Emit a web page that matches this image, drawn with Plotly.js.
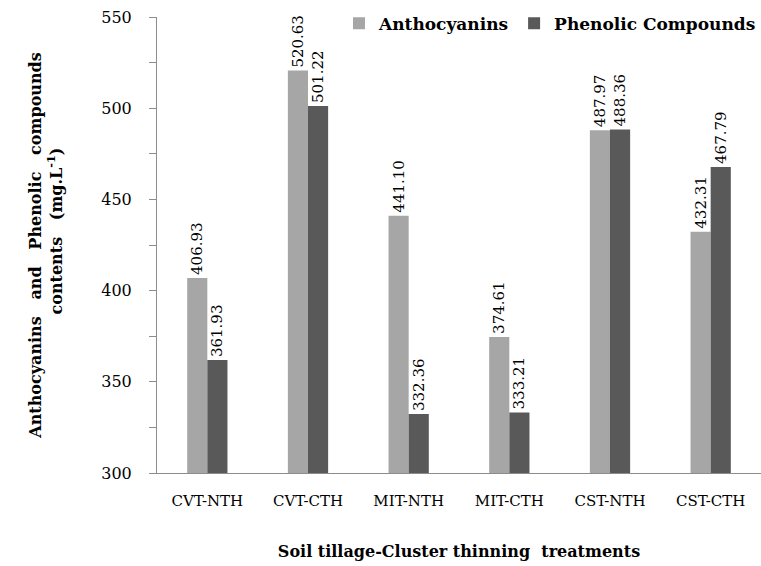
<!DOCTYPE html>
<html>
<head>
<meta charset="utf-8">
<script src="https://cdn.plot.ly/plotly-3.0.1.min.js"></script>
<style>html,body{margin:0;padding:0;background:#fff;}#chart{width:761px;height:566px;}</style>
</head>
<body>
<div id="chart"></div>
<script>
const categories = ["CVT-NTH", "CVT-CTH", "MIT-NTH", "MIT-CTH", "CST-NTH", "CST-CTH"];
const anthocyanins = [406.93, 520.63, 441.10, 374.61, 487.97, 432.31];
const phenolics = [361.93, 501.22, 332.36, 333.21, 488.36, 467.79];
const seriesNames = ["Anthocyanins", "Phenolic Compounds"];

const FONT = "DejaVu Serif, Liberation Serif, serif";
const NB = "\u00A0\u00A0\u00A0\u00A0\u00A0";

function mkTrace(name, vals, color) {
  return {
    type: "bar",
    name: name,
    x: categories,
    y: vals,
    text: vals.map(v => v.toFixed(2)),
    textposition: "outside",
    textangle: -90,
    constraintext: "none",
    cliponaxis: false,
    textfont: {family: FONT, size: 15, color: "#000"},
    marker: {color: color, line: {width: 0}},
    hoverinfo: "x+y+name"
  };
}

const data = [
  mkTrace(seriesNames[0], anthocyanins, "#A6A6A6"),
  mkTrace(seriesNames[1], phenolics, "#595959")
];

const layout = {
  width: 761, height: 566,
  margin: {l: 157, r: 0, t: 17, b: 93, pad: 0},
  paper_bgcolor: "#fff", plot_bgcolor: "#fff",
  font: {family: FONT, size: 15, color: "#000"},
  barmode: "group",
  bargap: 0.6,
  bargroupgap: 0,
  showlegend: true,
  legend: {
    orientation: "h", x: 1, xanchor: "right", y: 1.025, yanchor: "top",
    font: {family: FONT, size: 17, color: "#000", weight: "bold"},
    bgcolor: "rgba(0,0,0,0)", itemclick: false
  },
  xaxis: {
    type: "category",
    showline: true, linecolor: "#8c8c8c", linewidth: 1,
    ticks: "", showgrid: false, zeroline: false,
    tickfont: {family: FONT, size: 15, color: "#000"},
    ticklabelstandoff: 14,
    title: {text: "Soil tillage-Cluster thinning  treatments", font: {family: FONT, size: 16, color: "#000", weight: "bold"}, standoff: 36}
  },
  yaxis: {
    range: [300, 550], dtick: 50, tick0: 300,
    showline: true, linecolor: "#8c8c8c", linewidth: 1,
    ticks: "outside", ticklen: 7, tickcolor: "#8c8c8c",
    minor: {dtick: 25, ticks: "outside", ticklen: 7, tickcolor: "#8c8c8c", showgrid: false},
    showgrid: false, zeroline: false,
    tickfont: {family: FONT, size: 16, color: "#000"},
    ticklabelstandoff: 14,
    title: {text: NB + "Anthocyanins   and   Phenolic   compounds<br>" + NB + "contents   (mg.L<sup>-1</sup>)", font: {family: FONT, size: 16, color: "#000", weight: "bold"}, standoff: 34}
  }
};

Plotly.newPlot("chart", data, layout, {displayModeBar: false, staticPlot: true});
</script>
</body>
</html>
